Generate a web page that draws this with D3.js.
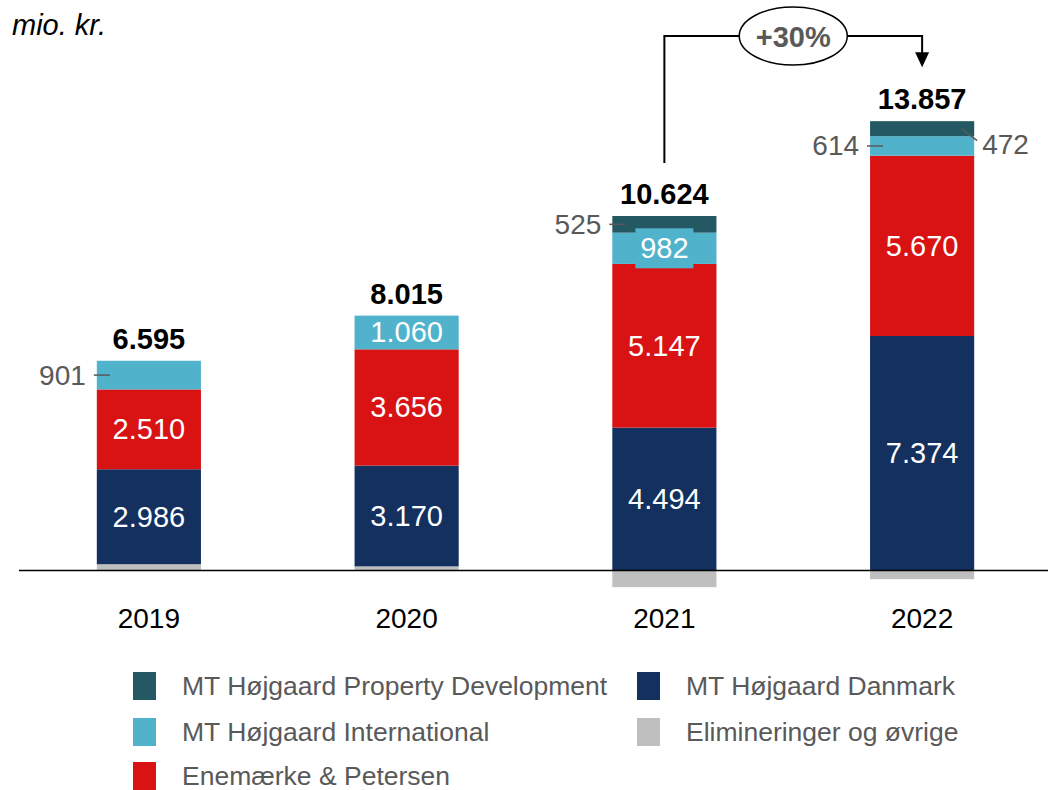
<!DOCTYPE html>
<html>
<head>
<meta charset="utf-8">
<script src="https://cdn.jsdelivr.net/npm/d3@7"></script>
<style>
  body { margin: 0; background: #fff; }
  svg { display: block; font-family: "Liberation Sans", Arial, sans-serif; }
</style>
</head>
<body>
<div id="chart"></div>
<script>
const years = ["2019", "2020", "2021", "2022"];
const elimValues = [198, 129, -524, -273];
const danmarkValues = [2986, 3170, 4494, 7374];
const epValues = [2510, 3656, 5147, 5670];
const intlValues = [901, 1060, 982, 614];
const propValues = [0, 0, 525, 472];

const seriesKeys = ["elim", "danmark", "ep", "intl", "prop"];
const seriesNames = {
  prop: "MT Højgaard Property Development",
  danmark: "MT Højgaard Danmark",
  intl: "MT Højgaard International",
  elim: "Elimineringer og øvrige",
  ep: "Enemærke & Petersen"
};
const legendOrder = [["prop", "danmark"], ["intl", "elim"], ["ep"]];

const colors = {
  prop: "#245963",
  danmark: "#13305f",
  intl: "#50b3cb",
  ep: "#d91214",
  elim: "#bfbfbf"
};

const width = 1048, height = 790;
const grey = "#595959";

const rows = years.map((yr, i) => ({
  year: yr,
  elim: elimValues[i],
  danmark: danmarkValues[i],
  ep: epValues[i],
  intl: intlValues[i],
  prop: propValues[i]
}));
rows.forEach(r => { r.total = d3.sum(seriesKeys, k => r[k]); });

const dk = d3.formatLocale({ decimal: ",", thousands: ".", grouping: [3], currency: ["", " kr."] });
const fmt = dk.format(",d");

const svg = d3.select("#chart").append("svg")
  .attr("width", width)
  .attr("height", height);

const x = d3.scaleBand()
  .domain(years)
  .range([20, 1051])
  .paddingInner(0.596)
  .paddingOuter(0.298);

const y = d3.scaleLinear()
  .domain([0, 14000])
  .range([570.5, 570.5 - 14000 * 0.0318]);

const stack = d3.stack()
  .keys(seriesKeys)
  .offset(d3.stackOffsetDiverging);
const stacked = stack(rows);

// bars
svg.append("g")
  .selectAll("g")
  .data(stacked)
  .join("g")
  .attr("fill", s => colors[s.key])
  .selectAll("rect")
  .data(s => s.map(d => Object.assign(d, { key: s.key })))
  .join("rect")
  .attr("x", d => x(d.data.year))
  .attr("width", x.bandwidth())
  .attr("y", d => y(Math.max(d[0], d[1])))
  .attr("height", d => Math.abs(y(d[0]) - y(d[1])));

// baseline
svg.append("line")
  .attr("x1", 19).attr("x2", width)
  .attr("y1", y(0)).attr("y2", y(0))
  .attr("stroke", "#000")
  .attr("stroke-width", 1.5);

// year labels
svg.append("g")
  .selectAll("text")
  .data(years)
  .join("text")
  .attr("x", d => x(d) + x.bandwidth() / 2)
  .attr("y", 628)
  .attr("text-anchor", "middle")
  .attr("font-size", 28)
  .attr("fill", "#000")
  .text(d => d);

// segment labels
const segs = stacked.flat().filter(d => d.key !== "elim" && d[1] - d[0] > 0);
const labelG = svg.append("g").attr("font-size", 29);

segs.forEach(d => {
  const cx = x(d.data.year) + x.bandwidth() / 2;
  const left = x(d.data.year), right = left + x.bandwidth();
  const top = y(d[1]), bot = y(d[0]);
  const mid = (top + bot) / 2;
  const v = d[1] - d[0];
  const small = bot - top < 32;

  if (!small) {
    labelG.append("text")
      .attr("x", cx).attr("y", mid)
      .attr("text-anchor", "middle")
      .attr("dominant-baseline", "central")
      .attr("fill", "#fff")
      .text(fmt(v));
  } else if (d.key === "intl" && d.data.year === "2021") {
    // label box sitting over the thin segment
    labelG.append("rect")
      .attr("x", cx - 29).attr("y", mid - 20)
      .attr("width", 58).attr("height", 40)
      .attr("fill", colors.intl);
    labelG.append("text")
      .attr("x", cx).attr("y", mid)
      .attr("text-anchor", "middle")
      .attr("dominant-baseline", "central")
      .attr("fill", "#fff")
      .text(fmt(v));
  } else if (d.key === "prop" && d.data.year === "2022") {
    svg.append("line")
      .attr("x1", right - 13).attr("y1", mid)
      .attr("x2", right + 3).attr("y2", mid + 12)
      .attr("stroke", grey).attr("stroke-width", 1.5);
    labelG.append("text")
      .attr("x", right + 8).attr("y", mid + 16)
      .attr("dominant-baseline", "central")
      .attr("font-size", 28)
      .attr("fill", grey)
      .text(fmt(v));
  } else {
    svg.append("line")
      .attr("x1", left - 3).attr("y1", mid)
      .attr("x2", left + 13).attr("y2", mid)
      .attr("stroke", grey).attr("stroke-width", 1.5);
    labelG.append("text")
      .attr("x", left - 11).attr("y", mid)
      .attr("text-anchor", "end")
      .attr("dominant-baseline", "central")
      .attr("font-size", 28)
      .attr("fill", grey)
      .text(fmt(v));
  }
});

// totals
svg.append("g")
  .selectAll("text")
  .data(rows)
  .join("text")
  .attr("x", d => x(d.year) + x.bandwidth() / 2)
  .attr("y", d => y(d.total - d.elim * (d.elim < 0 ? 1 : 0)) - 12)
  .attr("text-anchor", "middle")
  .attr("font-size", 29)
  .attr("font-weight", "bold")
  .attr("fill", "#000")
  .text(d => fmt(d.total));

// growth arrow 2021 -> 2022
const a = rows[2], b = rows[3];
const ax = x(a.year) + x.bandwidth() / 2;
const bx = x(b.year) + x.bandwidth() / 2;
const aTop = y(a.total - a.elim) - 53;
const bTop = y(b.total - b.elim) - 54;
const arrowY = 36;

svg.append("path")
  .attr("d", `M${ax},${aTop} V${arrowY} H${bx} V${bTop - 14}`)
  .attr("fill", "none")
  .attr("stroke", "#000")
  .attr("stroke-width", 2);
svg.append("path")
  .attr("d", `M${bx - 7},${bTop - 15} L${bx + 7},${bTop - 15} L${bx},${bTop} Z`)
  .attr("fill", "#000");

const cxE = (ax + bx) / 2;
svg.append("ellipse")
  .attr("cx", cxE).attr("cy", arrowY)
  .attr("rx", 54).attr("ry", 29)
  .attr("fill", "#fff")
  .attr("stroke", "#000")
  .attr("stroke-width", 1.5);
svg.append("text")
  .attr("x", cxE).attr("y", arrowY + 1)
  .attr("text-anchor", "middle")
  .attr("dominant-baseline", "central")
  .attr("font-size", 29)
  .attr("font-weight", "bold")
  .attr("fill", grey)
  .text("+" + Math.round((b.total / a.total - 1) * 100) + "%");

// unit
svg.append("text")
  .attr("x", 12).attr("y", 35)
  .attr("font-size", 29)
  .attr("font-style", "italic")
  .attr("fill", "#000")
  .text("mio. kr.");

// legend
const colX = [133, 637];
const rowY = [686, 732, 776];
const legend = svg.append("g").attr("font-size", 26.5);
legendOrder.forEach((row, ri) => {
  row.forEach((key, ci) => {
    const g = legend.append("g")
      .attr("transform", `translate(${colX[ci]},${rowY[ri]})`);
    g.append("rect")
      .attr("x", 0).attr("y", -14)
      .attr("width", 23).attr("height", 28)
      .attr("fill", colors[key]);
    g.append("text")
      .attr("x", 49).attr("y", 0)
      .attr("dominant-baseline", "central")
      .attr("fill", grey)
      .text(seriesNames[key]);
  });
});
</script>
</body>
</html>
